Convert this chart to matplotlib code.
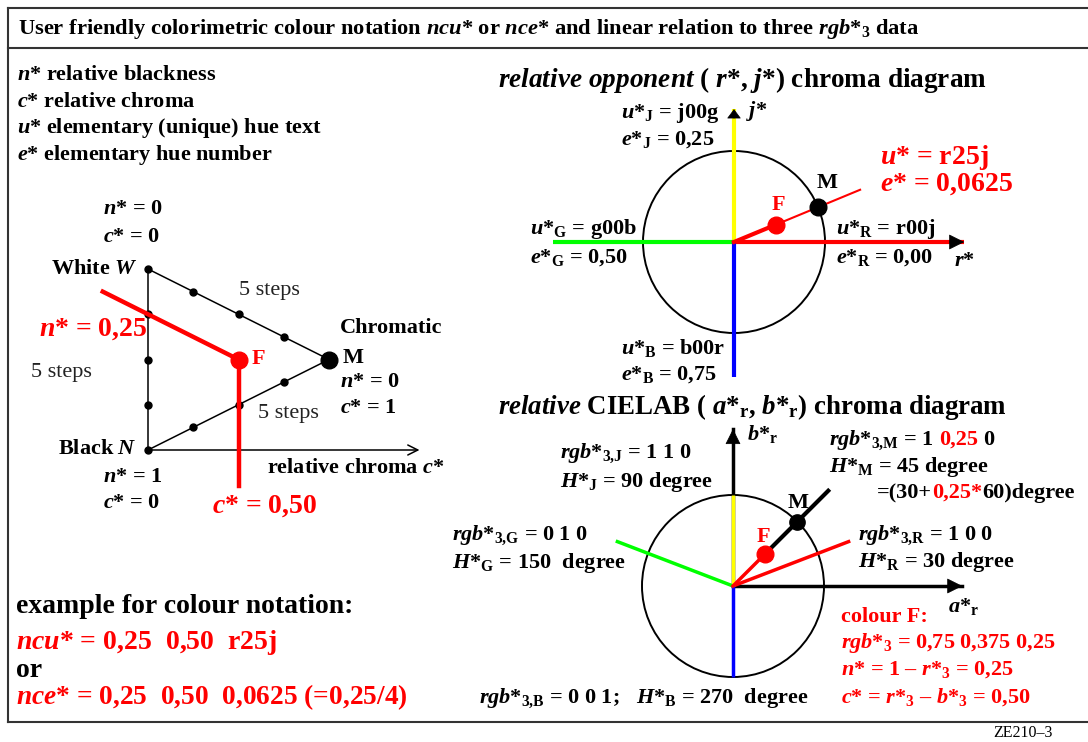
import numpy as np
import matplotlib.pyplot as plt
from matplotlib.patches import Circle

plt.rcParams['font.family'] = 'Liberation Serif'
plt.rcParams['mathtext.fontset'] = 'custom'
plt.rcParams['mathtext.rm'] = 'Liberation Serif:bold'
plt.rcParams['mathtext.bf'] = 'Liberation Serif:bold'
plt.rcParams['mathtext.it'] = 'Liberation Serif:italic:bold'
plt.rcParams['mathtext.default'] = 'it'

RED = '#ff0000'
hue_colors = ['#ff0000', '#ffff00', '#00ff00', '#0000ff']   # R J G B

# triangle (c*, height) : W top, N bottom, M chromatic
tri_c = [0, 0, 1, 0]
tri_t = [1, 0, 0.5, 1]
step_c = [0, 0, 0, 0, 0, 0.25, 0.5, 0.75, 0.25, 0.5, 0.75]
step_t = [1, 0.75, 0.5, 0.25, 0, 0.875, 0.75, 0.625, 0.125, 0.25, 0.375]
tri_M = [1.0, 0.5]
tri_F = [0.5, 0.5]
n_line_c = [-0.25, 0.5]
n_line_t = [0.875, 0.5]
c_line_c = [0.5, 0.5]
c_line_t = [0.5, -0.2]
chroma_axis_end = 1.5

# relative opponent diagram
opp_end_x = [2.53, 0, -1.99, 0]
opp_end_y = [0, 1.46, 0, -1.48]
e_star = 0.0625
f_chroma = 0.5
m_chroma = 1.0
hue_line_len = 1.5

# relative CIELAB diagram
lab_angle = [21, 90, 159, 270]
lab_len = [1.38, 1.0, 1.38, 1.0]
lab_M_angle = 45
lab_axis_x = 2.52
lab_axis_y = 1.725

W, H = 1088, 742
fig = plt.figure(figsize=(W / 100, H / 100), dpi=100)
bg = fig.add_axes([0, 0, 1, 1])
bg.set_xlim(0, W)
bg.set_ylim(H, 0)
bg.axis('off')


def diagram_axes(cx, cy, unit, xlim, ylim):
    x0 = cx + xlim[0] * unit
    x1 = cx + xlim[1] * unit
    ytop = cy - ylim[1] * unit
    ybot = cy - ylim[0] * unit
    a = fig.add_axes([x0 / W, (H - ybot) / H, (x1 - x0) / W, (ybot - ytop) / H])
    a.set_xlim(*xlim)
    a.set_ylim(*ylim)
    a.axis('off')
    return a


def arrow_head(a, tip, direction, ms, style='-|>', color='black'):
    a.annotate('', xy=tip, xytext=(tip[0] - direction[0], tip[1] - direction[1]),
               arrowprops=dict(arrowstyle=style, color=color, lw=0.5,
                               mutation_scale=ms, shrinkA=0, shrinkB=0))


def txt(x, y, s, size=16, color='black', weight='bold', ha='left', style='normal'):
    return bg.text(x, y, s, fontsize=size, color=color, fontweight=weight,
                   ha=ha, va='baseline', fontstyle=style)


def pieces(x, y, parts, size=16, gap=0):
    renderer = fig.canvas.get_renderer()
    for s, col in parts:
        t = txt(x, y, s, size=size, color=col)
        x += t.get_window_extent(renderer).width + gap


# frame
fc = '#333333'
bg.plot([7.5, 7.5], [8, 722], color=fc, lw=1.5)
bg.plot([7.5, W], [8, 8], color=fc, lw=1.5)
bg.plot([7.5, W], [48, 48], color=fc, lw=1.5)
bg.plot([7.5, W], [722, 722], color=fc, lw=1.5)

txt(18, 34, r'User friendly colorimetric colour notation $ncu$* or $nce$* and linear relation to three $rgb$*$_3$ data', size=16.2)
txt(993, 737, 'ZE210\u20133', size=11.5, weight='normal')

for i, s in enumerate([r'$n$* relative blackness', r'$c$* relative chroma',
                       r'$u$* elementary (unique) hue text', r'$e$* elementary hue number']):
    txt(17, 80 + i * 26.7, s)

# ---- triangle
ta = diagram_axes(148, 450, 181, (-0.5, 2.0), (-0.5, 1.5))
ta.plot(tri_c, tri_t, color='black', lw=1.1)
ta.annotate('', xy=(chroma_axis_end, 0), xytext=(0, 0),
            arrowprops=dict(arrowstyle='->', color='black', lw=1.1,
                            mutation_scale=18, shrinkA=0, shrinkB=0))
ta.plot(step_c, step_t, 'o', color='black', ms=5, zorder=3)
ta.plot(*tri_M, 'o', color='black', ms=12, zorder=3)
ta.plot(n_line_c, n_line_t, color=RED, lw=3.2, zorder=4)
ta.plot(c_line_c, c_line_t, color=RED, lw=3.2, zorder=4)
ta.plot(*tri_F, 'o', color=RED, ms=12, zorder=5)

txt(103, 214, r'$n$* = 0')
txt(103, 242, r'$c$* = 0')
txt(138, 274, r'White $W$', ha='right')
txt(239, 295, '5 steps', weight='normal', color='#222222')
txt(39, 336, r'$n$* = 0,25', size=20, color=RED)
txt(340, 333, 'Chromatic')
txt(343, 363, 'M')
txt(252, 364, 'F', color=RED)
txt(31, 377, '5 steps', weight='normal', color='#222222')
txt(340, 387, r'$n$* = 0')
txt(340, 413, r'$c$* = 1')
txt(258, 418, '5 steps', weight='normal', color='#222222')
txt(137, 454, r'Black $N$', ha='right')
txt(267, 473, r'relative chroma $c$*')
txt(103, 482, r'$n$* = 1')
txt(103, 508, r'$c$* = 0')
txt(212, 513, r'$c$* = 0,50', size=20, color=RED)

# ---- example
txt(16, 613, 'example for colour notation:', size=20)
txt(16, 649, r'$ncu$* = 0,25  0,50  r25j', size=20, color=RED)
txt(16, 677, 'or', size=20)
txt(16, 704, r'$nce$* = 0,25  0,50  0,0625 (=0,25/4)', size=19.7, color=RED)

# ---- relative opponent diagram
oa = diagram_axes(734, 242, 91, (-2.2, 2.8), (-1.7, 1.7))
oa.add_patch(Circle((0, 0), 1, fill=False, color='black', lw=1.4))
for ex, ey, col in zip(opp_end_x, opp_end_y, hue_colors):
    oa.plot([0, ex], [0, ey], color=col, lw=3, solid_capstyle='butt', zorder=3)
arrow_head(oa, (opp_end_x[0], 0), (0.16, 0), 25)
arrow_head(oa, (0, opp_end_y[1]), (0, 0.1), 15, style='-|>,head_length=0.4,head_width=0.3')
ang = np.deg2rad(e_star * 360)
ux, uy = np.cos(ang), np.sin(ang)
oa.plot([0, f_chroma * ux], [0, f_chroma * uy], color=RED, lw=3, zorder=4)
oa.plot([f_chroma * ux, hue_line_len * ux], [f_chroma * uy, hue_line_len * uy], color=RED, lw=1.5, zorder=4)
oa.plot(m_chroma * ux, m_chroma * uy, 'o', color='black', ms=12, zorder=5)
oa.plot(f_chroma * ux, f_chroma * uy, 'o', color=RED, ms=12, zorder=5)

txt(498, 87, r'$relative\ opponent\ (\ r$*, $j$*) chroma diagram', size=19.6)
txt(621, 118, r'$u$*$_\mathrm{J}$ = j00g')
txt(621, 145, r'$e$*$_\mathrm{J}$ = 0,25')
txt(746, 116, r'$j$*')
txt(880, 164, r'$u$* = r25j', size=20, color=RED)
txt(880, 191, r'$e$* = 0,0625', size=20, color=RED)
txt(817, 188, 'M')
txt(772, 210, 'F', color=RED)
txt(530, 234, r'$u$*$_\mathrm{G}$ = g00b')
txt(530, 263, r'$e$*$_\mathrm{G}$ = 0,50')
txt(836, 234, r'$u$*$_\mathrm{R}$ = r00j')
txt(836, 263, r'$e$*$_\mathrm{R}$ = 0,00')
txt(954, 266, r'$r$*')
txt(621, 354, r'$u$*$_\mathrm{B}$ = b00r')
txt(621, 380, r'$e$*$_\mathrm{B}$ = 0,75')

# ---- relative CIELAB diagram
la = diagram_axes(733, 586, 91, (-2.2, 2.8), (-1.5, 2.0))
la.add_patch(Circle((0, 0), 1, fill=False, color='black', lw=1.4))
la.plot([0, 0], [0, lab_axis_y], color='black', lw=2.5, zorder=2)
la.plot([0, lab_axis_x], [0, 0], color='black', lw=2.5, zorder=2)
arrow_head(la, (0, lab_axis_y), (0, 0.18), 25)
arrow_head(la, (lab_axis_x, 0), (0.2, 0), 25)
for a_deg, ln, col in zip(lab_angle, lab_len, hue_colors):
    r = np.deg2rad(a_deg)
    la.plot([0, ln * np.cos(r)], [0, ln * np.sin(r)], color=col, lw=2.5,
            solid_capstyle='butt', zorder=3)
mr = np.deg2rad(lab_M_angle)
mx, my = np.cos(mr), np.sin(mr)
la.plot([0, f_chroma * mx], [0, f_chroma * my], color=RED, lw=2.5, zorder=4)
la.plot([f_chroma * mx, 1.48 * mx], [f_chroma * my, 1.48 * my], color='black', lw=3, zorder=4)
la.plot(m_chroma * mx, m_chroma * my, 'o', color='black', ms=11, zorder=5)
la.plot(f_chroma * mx, f_chroma * my, 'o', color=RED, ms=12, zorder=5)

txt(498, 414, r'$relative$ CIELAB ( $a$*$_\mathrm{r}$, $b$*$_\mathrm{r}$) chroma diagram', size=19.4)
txt(747, 440, r'$b$*$_\mathrm{r}$')
txt(560, 458, r'$rgb$*$_\mathrm{3{,}J}$ = 1 1 0')
txt(560, 487, r'$H$*$_\mathrm{J}$ = 90 degree')
pieces(829, 445, [(r'$rgb$*$_\mathrm{3{,}M}$ = 1', 'black'), ('0,25', RED), ('0', 'black')], gap=5)
txt(829, 472, r'$H$*$_\mathrm{M}$ = 45 degree')
pieces(877, 498, [('=(30+', 'black'), ('0,25*', RED), ('60)degree', 'black')])
txt(788, 508, 'M')
txt(757, 542, 'F', color=RED)
txt(452, 540, r'$rgb$*$_\mathrm{3{,}G}$ = 0 1 0')
txt(452, 568, r'$H$*$_\mathrm{G}$ = 150  degree')
txt(858, 540, r'$rgb$*$_\mathrm{3{,}R}$ = 1 0 0')
txt(858, 567, r'$H$*$_\mathrm{R}$ = 30 degree')
txt(841, 622, 'colour F:', color=RED)
txt(948, 612, r'$a$*$_\mathrm{r}$')
txt(841, 648, r'$rgb$*$_3$ = 0,75 0,375 0,25', color=RED)
txt(841, 675, '$n$* = 1 \u2013 $r$*$_3$ = 0,25', color=RED)
txt(841, 703, '$c$* = $r$*$_3$ \u2013 $b$*$_3$ = 0,50', color=RED)
txt(479, 703, r'$rgb$*$_\mathrm{3{,}B}$ = 0 0 1;   $H$*$_\mathrm{B}$ = 270  degree')

fig.savefig('out.png', dpi=100)
